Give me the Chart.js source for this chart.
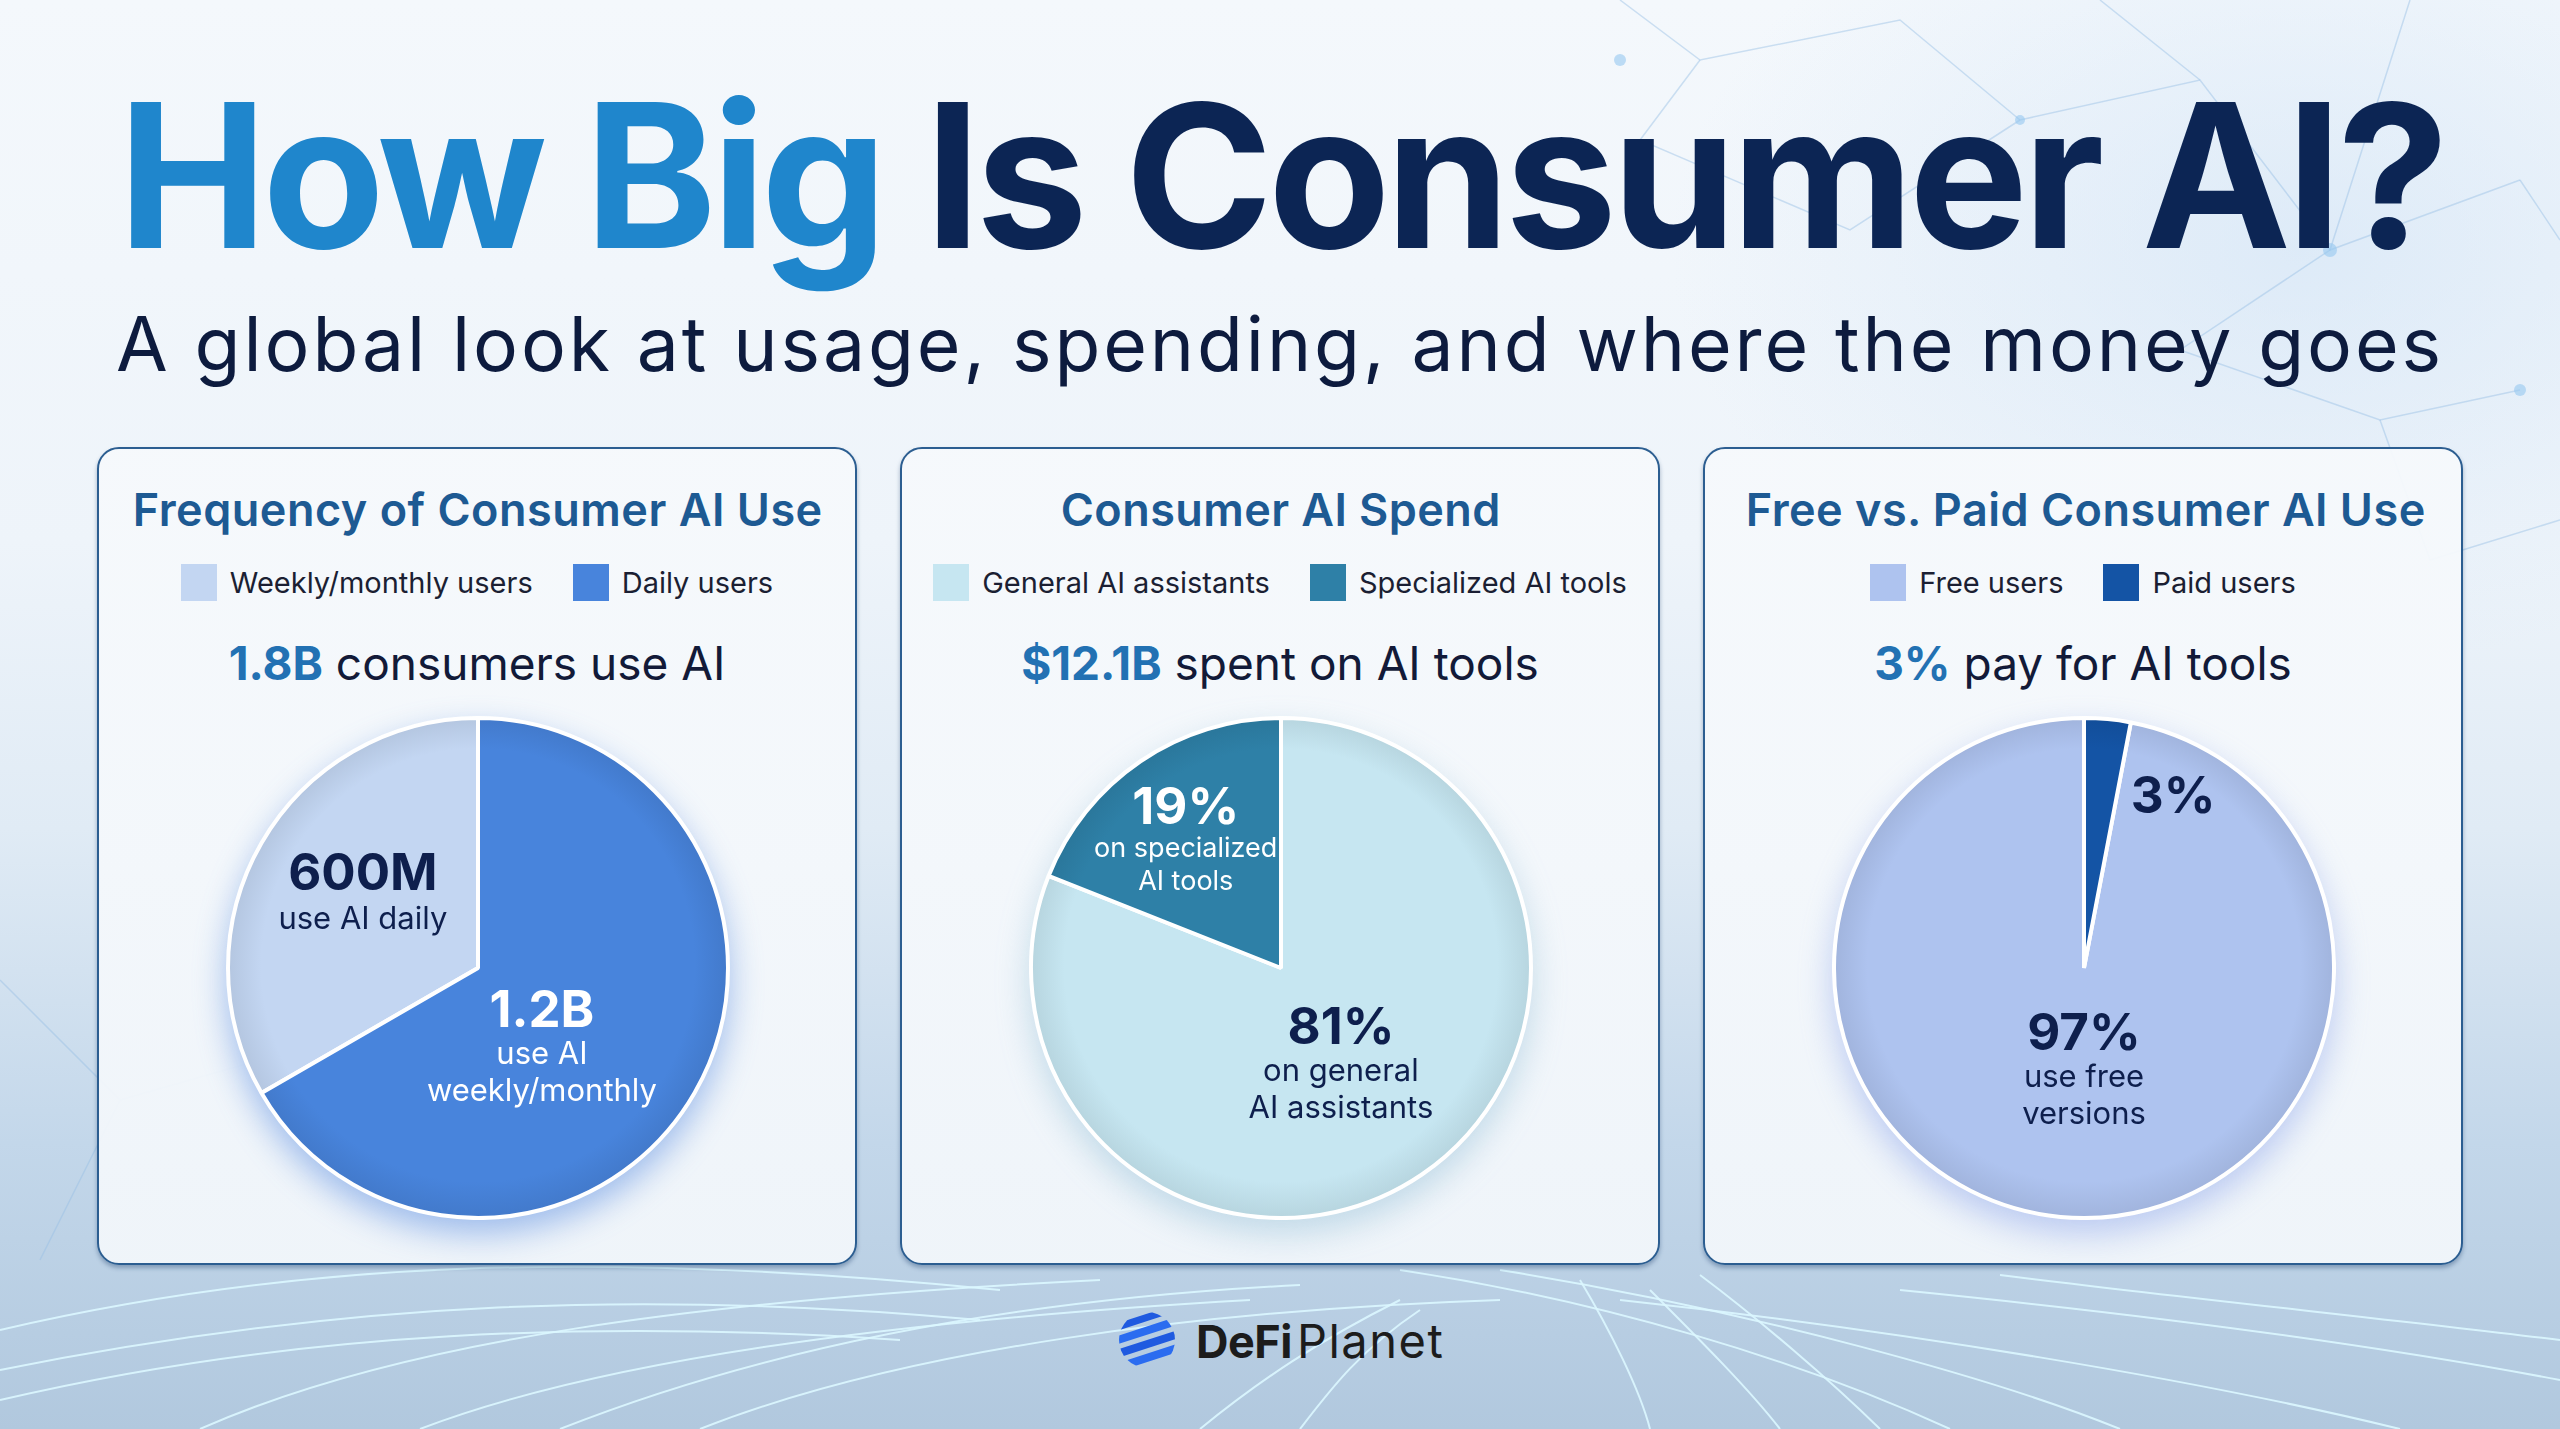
<!DOCTYPE html>
<html>
<head>
<meta charset="utf-8">
<title>How Big Is Consumer AI?</title>
<script src="https://cdn.jsdelivr.net/npm/chart.js@4.4.1/dist/chart.umd.min.js"></script>
<style>
  html, body { margin: 0; padding: 0; }
  body { width: 2560px; height: 1429px; overflow: hidden; font-family: Inter, "Noto Sans", sans-serif; }
  #page {
    position: relative; width: 2560px; height: 1429px; overflow: hidden;
    background:
      radial-gradient(ellipse 900px 600px at 2300px 250px, rgba(205,225,245,0.55), rgba(205,225,245,0) 70%),
      linear-gradient(180deg, #f4f8fc 0%, #eef4fa 38%, #e0ebf5 58%, #c3d7ea 80%, #b1c8de 100%);
  }
  svg.bg { position: absolute; left: 0; top: 0; }
  .abs { position: absolute; white-space: nowrap; line-height: 1; }
  #title { left: 118px; top: 75px; font-size: 200px; font-weight: 700; color: #0c2554; }
  #title .hl { color: #1f86cc; }
  #subtitle { left: 116px; top: 306px; font-size: 75px; font-weight: 400; color: #0d1b3e; }
  .panel {
    position: absolute; top: 447px; width: 756px; height: 814px;
    border: 2.5px solid #2c5e91; border-radius: 22px;
    background: linear-gradient(180deg, rgba(246,249,252,0.95), rgba(243,247,251,0.93));
    box-shadow: 0 3px 4px rgba(20,55,100,0.35);
  }
  .ptitle { top: 38px; font-size: 45px; font-weight: 600; color: #1d5a93; }
  .legend { position: absolute; left: 0; width: 100%; top: 114px; height: 38px; display: flex; justify-content: center; align-items: center; gap: 40px; }
  .legend .item { display: flex; align-items: center; gap: 13px; font-size: 29px; color: #1b1f33; }
  .legend .sw { width: 36px; height: 37px; }
  .sub { left: 0; width: 100%; top: 191px; text-align: center; font-size: 46px; font-weight: 400; color: #121a38; }
  .sub b { font-weight: 700; color: #2271b3; }
  .pie { position: absolute; left: 127px; top: 267px; width: 504px; height: 504px; }
  #logo { left: 1118px; top: 1311px; display: flex; align-items: center; gap: 20px; color: #1c1c1c; }
  #logo b { font-size: 45px; font-weight: 700; letter-spacing: -0.5px; margin-right: 5px; }
  #logo i { font-style: normal; font-size: 47px; font-weight: 400; letter-spacing: 1.5px; }
</style>
</head>
<body>
<div id="page">
  <svg class="bg" width="2560" height="1429" viewBox="0 0 2560 1429">
    <g stroke="rgba(150,190,228,0.45)" stroke-width="1.5" fill="none">
      <path d="M1620 0 L1700 60 L1900 20 L2020 120 L2200 80 L2330 250 L2520 180"/>
      <path d="M1700 60 L1640 140 L1850 230 L2020 120"/>
      <path d="M2200 80 L2100 0 M2330 250 L2410 0 M2330 250 L2180 350 L2380 420 L2520 390"/>
      <path d="M2520 180 L2560 240 M2380 420 L2430 560 L2560 520"/>
      <path d="M0 980 L120 1100 L40 1260 M120 1100 L260 1060"/>
    </g>
    <g fill="rgba(150,200,240,0.6)">
      <circle cx="1620" cy="60" r="6"/><circle cx="2020" cy="120" r="5"/><circle cx="2330" cy="250" r="7"/><circle cx="2520" cy="390" r="6"/>
    </g>
    <g stroke="rgba(220,247,255,0.9)" stroke-width="2" fill="none">
      <path d="M0 1330 C300 1260 600 1250 1000 1290"/>
      <path d="M0 1370 C350 1300 650 1290 980 1320"/>
      <path d="M0 1400 C300 1330 600 1320 900 1340"/>
      <path d="M200 1429 C400 1340 700 1300 1100 1280"/>
      <path d="M420 1429 C600 1360 900 1320 1250 1300"/>
      <path d="M560 1429 C760 1350 1000 1300 1300 1285"/>
      <path d="M700 1429 C900 1350 1200 1310 1500 1300"/>
      <path d="M1400 1270 C1600 1300 1800 1360 1950 1429"/>
      <path d="M1500 1270 C1750 1310 2000 1380 2120 1429"/>
      <path d="M1620 1300 C1900 1330 2200 1380 2400 1429"/>
      <path d="M1650 1290 C1700 1340 1750 1390 1780 1429"/>
      <path d="M1580 1280 C1610 1330 1640 1390 1650 1429"/>
      <path d="M1700 1275 C1760 1320 1830 1380 1880 1429"/>
      <path d="M1900 1290 C2100 1310 2350 1340 2560 1380"/>
      <path d="M2000 1275 C2200 1300 2400 1320 2560 1340"/>
      <path d="M1200 1429 C1260 1380 1320 1340 1400 1300"/>
      <path d="M1300 1429 C1330 1390 1360 1350 1420 1310"/>
    </g>
  </svg>

  <div id="title" class="abs"><span class="hl">How Big</span> Is Consumer AI?</div>
  <div id="subtitle" class="abs">A global look at usage, spending, and where the money goes</div>

  <div class="panel" id="panel-usage" style="left:97px">
    <div class="ptitle abs" id="pt-usage">Frequency of Consumer AI Use</div>
    <div class="legend" id="legend-usage"></div>
    <div class="sub abs"><b>1.8B</b> consumers use AI</div>
    <div class="pie"><canvas id="pie-usage" width="504" height="504"></canvas></div>
  </div>
  <div class="panel" id="panel-spend" style="left:900px">
    <div class="ptitle abs" id="pt-spend">Consumer AI Spend</div>
    <div class="legend" id="legend-spend"></div>
    <div class="sub abs"><b>$12.1B</b> spent on AI tools</div>
    <div class="pie"><canvas id="pie-spend" width="504" height="504"></canvas></div>
  </div>
  <div class="panel" id="panel-paid" style="left:1703px">
    <div class="ptitle abs" id="pt-paid">Free vs. Paid Consumer AI Use</div>
    <div class="legend" id="legend-paid"></div>
    <div class="sub abs"><b>3%</b> pay for AI tools</div>
    <div class="pie"><canvas id="pie-paid" width="504" height="504"></canvas></div>
  </div>

  <div id="logo" class="abs">
    <svg width="58" height="58" viewBox="0 0 58 58">
      <defs><clipPath id="globe"><circle cx="29" cy="29" r="28"/></clipPath></defs>
      <g clip-path="url(#globe)" fill="#1f5ae0">
        <rect x="-10" y="4" width="80" height="7" transform="rotate(-18 29 29)"/>
        <rect x="-10" y="16" width="80" height="8" transform="rotate(-18 29 29)" fill="#2b6cf0"/>
        <rect x="-10" y="29" width="80" height="8" transform="rotate(-18 29 29)"/>
        <rect x="-10" y="42" width="80" height="8" transform="rotate(-18 29 29)" fill="#2b6cf0"/>
      </g>
    </svg>
    <span><b>DeFi</b><i>Planet</i></span>
  </div>
</div>

<script>
// values
const usageLabels = ["Weekly/monthly users", "Daily users"];
const usageValues = [600, 1200]; // millions of consumers
const usageColors = ["#c3d6f2", "#4884dc"];
const usageNotes = [["600M", "use AI daily"], ["1.2B", "use AI", "weekly/monthly"]];

const spendLabels = ["General AI assistants", "Specialized AI tools"];
const spendValues = [81, 19]; // % of $12.1B
const spendColors = ["#c6e6f1", "#2e80a7"];
const spendNotes = [["81%", "on general", "AI assistants"], ["19%", "on specialized", "AI tools"]];

const paidLabels = ["Free users", "Paid users"];
const paidValues = [97, 3]; // % of users
const paidColors = ["#aec3ef", "#1454a5"];
const paidNotes = [["97%", "use free", "versions"], ["3%"]];

const NAVY = "#0e1f4d";

function darken(hex, k) {
  const n = parseInt(hex.slice(1), 16);
  const c = [n >> 16, (n >> 8) & 255, n & 255].map(v => Math.round(v * (1 - k)));
  return `rgb(${c[0]},${c[1]},${c[2]})`;
}

// slight rim shading like the glossy discs in the original
function shaded(colors) {
  return (c) => {
    const area = c.chart.chartArea;
    if (!area) return colors[c.dataIndex];
    const cx = (area.left + area.right) / 2, cy = (area.top + area.bottom) / 2;
    const R = Math.min(area.width, area.height) / 2;
    const g = c.chart.ctx.createRadialGradient(cx, cy - 20, 0, cx, cy, R);
    g.addColorStop(0, colors[c.dataIndex]);
    g.addColorStop(0.86, colors[c.dataIndex]);
    g.addColorStop(1, darken(colors[c.dataIndex], 0.08));
    return g;
  };
}

// text inside the slices, placed from each arc's own angles and radius
const sliceText = {
  id: "sliceText",
  afterDatasetsDraw(chart, args, opts) {
    const ctx = chart.ctx;
    const arcs = chart.getDatasetMeta(0).data;
    opts.notes.forEach((lines, i) => {
      const p = opts.place[i];
      const arc = arcs[i];
      const a = arc.startAngle + (arc.endAngle - arc.startAngle) * p.at;
      const r = arc.outerRadius * p.r;
      const x = arc.x + Math.cos(a) * r;
      const y = arc.y + Math.sin(a) * r;
      ctx.save();
      ctx.textAlign = "center";
      ctx.textBaseline = "alphabetic";
      ctx.fillStyle = p.color;
      lines.forEach((t, k) => {
        ctx.font = k === 0 ? "700 51px Inter" : `400 ${p.small || 31}px Inter`;
        ctx.fillText(t, x, y + k * p.step);
      });
      ctx.restore();
    });
  }
};

function buildLegend(id, labels, colors) {
  const box = document.getElementById(id);
  box.innerHTML = labels.map((l, i) =>
    `<div class="item"><div class="sw" style="background:${colors[i]}"></div><span>${l}</span></div>`
  ).join("");
}

function makePie(canvasId, labels, values, colors, rotation, notes, place, glow) {
  const el = document.getElementById(canvasId);
  el.style.filter = `drop-shadow(0 14px 16px ${glow})`;
  return new Chart(el, {
    type: "pie",
    data: {
      labels,
      datasets: [{
        data: values,
        backgroundColor: shaded(colors),
        borderColor: "#ffffff",
        borderWidth: 4,
        hoverBorderWidth: 4,
        offset: 0,
        hoverOffset: 0,
      }]
    },
    options: {
      responsive: false,
      animation: false,
      events: [],
      rotation,
      layout: { padding: 0 },
      plugins: {
        legend: { display: false },
        tooltip: { enabled: false },
        sliceText: { notes, place },
      }
    },
    plugins: [sliceText]
  });
}

buildLegend("legend-usage", usageLabels, usageColors);
buildLegend("legend-spend", spendLabels, spendColors);
buildLegend("legend-paid", paidLabels, paidColors);

makePie("pie-usage", usageLabels, usageValues, usageColors, 240, usageNotes, [
  { at: 0.534, r: 0.556, step: 39, color: NAVY },
  { at: 0.553, r: 0.348, step: 37, color: "#ffffff" },
], "rgba(60,120,220,0.45)");

makePie("pie-spend", spendLabels, spendValues, spendColors, 0, spendNotes, [
  { at: 0.486, r: 0.387, step: 37, color: NAVY },
  { at: 0.51, r: 0.69, step: 33, small: 27, color: "#ffffff" },
], "rgba(110,170,200,0.35)");

makePie("pie-paid", paidLabels, paidValues, paidColors, 10.8, paidNotes, [
  { at: 0.4845, r: 0.328, step: 37, color: NAVY },
  { at: 2.77, r: 0.715, step: 37, color: NAVY },
], "rgba(110,140,230,0.4)");

// stretch the headline texts to the widths they take in the original
function fitWidth(id, target, left) {
  const el = document.getElementById(id);
  const n = el.textContent.length;
  const w = el.getBoundingClientRect().width;
  const ls = (target - w) / n;
  el.style.letterSpacing = ls + "px";
  if (left !== undefined) el.style.left = (left - ls / 2) + "px";
}
fitWidth("title", 2326);
fitWidth("subtitle", 2328);
fitWidth("pt-usage", 690, 34);
fitWidth("pt-spend", 440, 159);
fitWidth("pt-paid", 680, 41);
</script>
</body>
</html>
